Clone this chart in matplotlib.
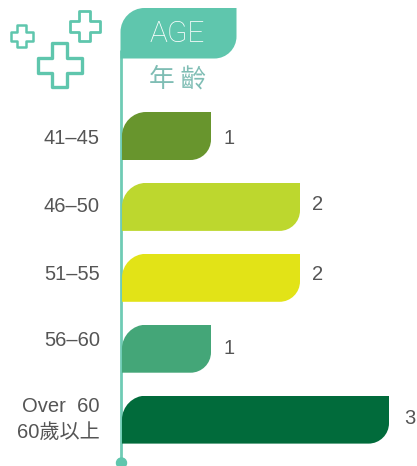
import matplotlib
matplotlib.use('Agg')
import matplotlib.pyplot as plt
from matplotlib.path import Path
from matplotlib.patches import PathPatch, Circle, Polygon

# dados do grafico
categorias = ['41\u201345', '46\u201350', '51\u201355', '56\u201360', 'Over  60\n60歲以上']
valores = [1, 2, 2, 1, 3]
cores = ['#68952d', '#bdd72e', '#e2e317', '#44a678', '#016b3b']

TEAL = '#5fc6ad'
TEXTO = '#555555'
FONTE = ['Liberation Sans', 'Noto Sans CJK TC', 'DejaVu Sans']
FONTE_CJK = ['Noto Sans CJK TC', 'DejaVu Sans']
W, H = 417, 466

fig = plt.figure(figsize=(W / 100, H / 100), dpi=100)

# camada em pixels para a decoracao
deco = fig.add_axes([0, 0, 1, 1])
deco.set_xlim(0, W)
deco.set_ylim(H, 0)
deco.axis('off')


def folha(x0, y0, x1, y1, rx0, ry0, rx1, ry1):
    # retangulo com canto sup. esquerdo e inf. direito arredondados
    k = 0.45
    verts = [(x0, y0 + ry0),
             (x0, y0 + ry0 * k), (x0 + rx0 * k, y0), (x0 + rx0, y0),
             (x1, y0), (x1, y1 - ry1),
             (x1, y1 - ry1 * k), (x1 - rx1 * k, y1), (x1 - rx1, y1),
             (x0, y1), (x0, y0 + ry0)]
    codes = [Path.MOVETO, Path.CURVE4, Path.CURVE4, Path.CURVE4, Path.LINETO, Path.LINETO,
             Path.CURVE4, Path.CURVE4, Path.CURVE4, Path.LINETO, Path.CLOSEPOLY]
    return Path(verts, codes)


def cruz(cx, cy, a, b):
    return [(cx - b, cy - a), (cx + b, cy - a), (cx + b, cy - b), (cx + a, cy - b),
            (cx + a, cy + b), (cx + b, cy + b), (cx + b, cy + a), (cx - b, cy + a),
            (cx - b, cy + b), (cx - a, cy + b), (cx - a, cy - b), (cx - b, cy - b)]


for cx, cy, a, b, lw in [(22, 36, 11, 4.5, 1.8), (85, 26, 15, 5.5, 2.0), (60, 65, 22, 7.5, 2.4)]:
    deco.add_patch(Polygon(cruz(cx, cy, a, b), closed=True, fc='white', ec=TEAL, lw=lw, joinstyle='round'))

# eixo vertical e bandeira
deco.plot([121.5, 121.5], [50, 460], color=TEAL, lw=2.0, solid_capstyle='butt', zorder=4, alpha=0.9)
deco.add_patch(Circle((121.5, 463), 5, color=TEAL, zorder=4))
p_flag = folha(120.5, 8, 236.5, 58.5, 24, 24, 22, 22)
deco.add_patch(PathPatch(p_flag, fc=TEAL, ec='none', zorder=5))
deco.text(177, 33.5, 'AGE', color='white', fontsize=21.5, family=['Roboto', 'DejaVu Sans'], fontweight='light',
          ha='center', va='center', zorder=6)
deco.text(178, 80, '年 齡', color='#7fbdb4', fontsize=18.5, family=FONTE_CJK, ha='center', va='center')

# barras: x em valor, y em categoria
ax = fig.add_axes([122 / W, 1 - 460 / H, (389 - 122) / W, (460 - 100) / H])
ax.patch.set_alpha(0)
ax.set_xlim(0, 3)
passo = 70.9
ax.set_ylim((460 - 136) / passo, (100 - 136) / passo)
ax.axis('off')
posicoes = list(range(len(categorias)))
barras = ax.barh(posicoes, valores, height=48 / passo, color=cores, zorder=2)

rx = 24 / 89
ry = 24 / passo
for b in barras:
    x0, y0 = b.get_x(), b.get_y()
    x1, y1 = x0 + b.get_width(), y0 + b.get_height()
    b.set_clip_path(folha(x0, y0, x1, y1, rx, ry, rx * 0.85, ry * 0.85), ax.transData)

# rotulos das categorias e valores
y_cat = [139, 206, 274, 340, 419]
y_val = [138, 205, 275, 349, 419]
for nome, yc, v, yv in zip(categorias, y_cat, valores, y_val):
    deco.text(100, yc, nome, color=TEXTO, fontsize=14.5, family=FONTE,
              ha='right', va='center', linespacing=1.45)
    xv = ax.transData.transform((v, 0))[0] + 18
    deco.text(xv + (0 if v < 3 else 3), yv, str(v), color=TEXTO, fontsize=14.5, family=FONTE,
              ha='center', va='center')

fig.savefig('out.png', dpi=100)
